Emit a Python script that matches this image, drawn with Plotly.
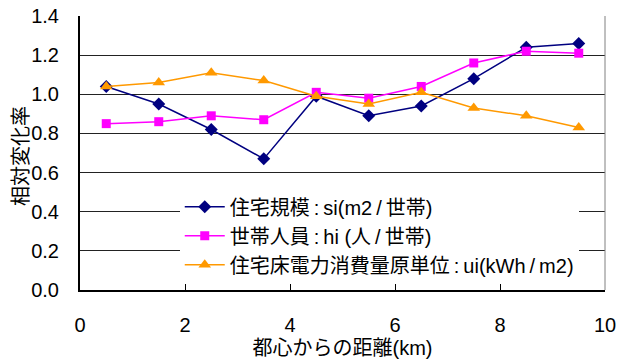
import plotly.graph_objects as go

# distance from city centre (km), midpoints of 1 km rings
distance_km = [0.5, 1.5, 2.5, 3.5, 4.5, 5.5, 6.5, 7.5, 8.5, 9.5]

# relative change rates
house_size = [1.04, 0.95, 0.82, 0.67, 0.99, 0.89, 0.94, 1.08, 1.24, 1.26]
household_members = [0.85, 0.86, 0.89, 0.87, 1.01, 0.98, 1.04, 1.16, 1.22, 1.21]
power_per_floor = [1.04, 1.06, 1.11, 1.07, 0.99, 0.95, 1.01, 0.93, 0.89, 0.83]

T = "\u2009"  # thin space
series_names = [
    f"住宅規模{T}:{T}si(m2{T}/{T}世帯)",
    f"世帯人員{T}:{T}hi (人{T}/{T}世帯)",
    f"住宅床電力消費量原単位{T}:{T}ui(kWh{T}/{T}m2)",
]

x_ticks = [0, 2, 4, 6, 8, 10]
y_ticks = [0.0, 0.2, 0.4, 0.6, 0.8, 1.0, 1.2, 1.4]

FONT = "Arial, 'Liberation Sans', 'Noto Sans CJK JP', sans-serif"

fig = go.Figure()
fig.add_trace(go.Scatter(
    x=distance_km, y=house_size, name=series_names[0], mode="lines+markers",
    line=dict(color="#000080", width=1.5),
    marker=dict(symbol="diamond", size=10, color="#000080"),
))
fig.add_trace(go.Scatter(
    x=distance_km, y=household_members, name=series_names[1], mode="lines+markers",
    line=dict(color="#FF00FF", width=1.5),
    marker=dict(symbol="square", size=9, color="#FF00FF"),
))
fig.add_trace(go.Scatter(
    x=distance_km, y=power_per_floor, name=series_names[2], mode="lines+markers",
    line=dict(color="#FF9900", width=1.5),
    marker=dict(symbol="triangle-up", size=11, color="#FF9900"),
))

# right-hand frame line
fig.add_shape(type="line", xref="paper", yref="paper", x0=1, x1=1, y0=0, y1=1,
              line=dict(color="#808080", width=1))

# vertical y-axis title
fig.add_annotation(
    text="相対変化率", textangle=-90, showarrow=False,
    xref="paper", yref="paper", x=-0.112, y=0.49,
    xanchor="center", yanchor="middle", font=dict(size=20),
)

fig.update_layout(
    width=618, height=361,
    margin=dict(l=80, r=13, t=16, b=71),
    paper_bgcolor="white", plot_bgcolor="white",
    font=dict(family=FONT, size=20, color="black"),
    legend=dict(
        x=0.19, y=0.375, xanchor="left", yanchor="top",
        bgcolor="white", borderwidth=0,
        font=dict(size=20), tracegroupgap=0, itemwidth=40,
    ),
    xaxis=dict(
        range=[0, 10], tickvals=x_ticks, ticktext=[str(v) for v in x_ticks],
        showgrid=False, zeroline=False, automargin=False,
        showline=True, linecolor="black", linewidth=2,
        ticks="inside", ticklen=6, tickcolor="black",
        ticklabelstandoff=16,
        title=dict(text="都心からの距離(km)", standoff=6, font=dict(size=20)),
    ),
    yaxis=dict(
        range=[0, 1.4], tickvals=y_ticks, ticktext=[f"{v:.1f}" for v in y_ticks],
        showgrid=True, gridcolor="#222222", gridwidth=1,
        zeroline=False, showline=True, linecolor="black", linewidth=2,
        ticks="", ticklabelstandoff=15, automargin=False,
    ),
)

fig.write_html("out.html")
